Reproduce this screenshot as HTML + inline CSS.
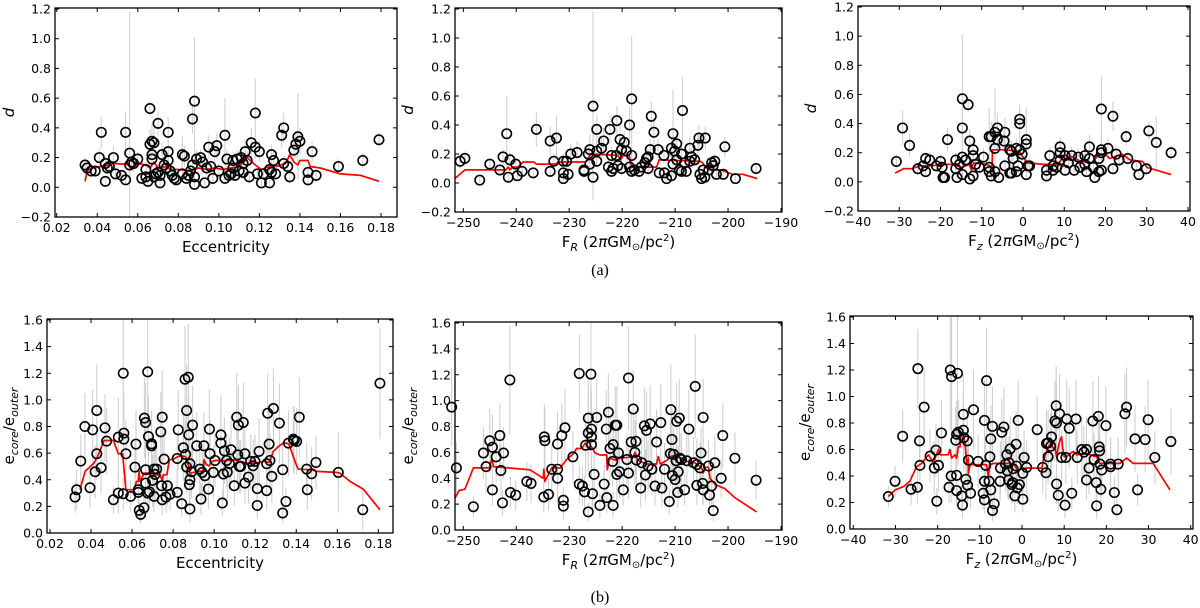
<!DOCTYPE html>
<html><head><meta charset="utf-8"><style>
html,body{margin:0;padding:0;background:#fff}
svg{display:block;font-family:"DejaVu Sans","Liberation Sans",sans-serif}
</style></head><body>
<svg id="fig" width="1200" height="608" viewBox="0 0 1200 608" xmlns="http://www.w3.org/2000/svg">
<text x="600" y="275" text-anchor="middle" font-family="Liberation Serif, serif" font-size="16">(a)</text>
<text x="600" y="602" text-anchor="middle" font-family="Liberation Serif, serif" font-size="16">(b)</text>
</svg>
<script>
// ---- data: [x, y, errHalf] ----
const p1Pts=[[0.034,0.15,0.05],[0.035,0.13,0.04],[0.037,0.11,0.04],[0.039,0.11,0.03],[0.041,0.20,0.06],[0.042,0.37,0.11],[0.044,0.16,0.05],[0.044,0.04,0.03],[0.045,0.13,0.04],[0.046,0.14,0.05],[0.048,0.20,0.08],[0.049,0.09,0.04],[0.052,0.08,0.03],[0.054,0.05,0.03],[0.054,0.37,0.14],[0.056,0.23,0.95],[0.056,0.15,0.06],[0.057,0.17,0.05],[0.058,0.16,0.06],[0.060,0.19,0.05],[0.062,0.06,0.03],[0.064,0.07,0.03],[0.064,0.12,0.05],[0.065,0.04,0.03],[0.066,0.29,0.10],[0.066,0.53,0.05],[0.067,0.31,0.12],[0.067,0.22,0.08],[0.067,0.19,0.06],[0.068,0.07,0.04],[0.068,0.30,0.10],[0.069,0.09,0.04],[0.070,0.43,0.08],[0.070,0.10,0.05],[0.071,0.03,0.02],[0.071,0.08,0.04],[0.072,0.22,0.08],[0.073,0.15,0.05],[0.074,0.13,0.05],[0.075,0.18,0.06],[0.075,0.37,0.10],[0.075,0.24,0.08],[0.076,0.11,0.04],[0.077,0.08,0.04],[0.078,0.06,0.03],[0.079,0.05,0.03],[0.082,0.09,0.05],[0.082,0.22,0.13],[0.083,0.21,0.07],[0.084,0.06,0.03],[0.085,0.08,0.04],[0.086,0.11,0.05],[0.087,0.46,0.10],[0.087,0.15,0.05],[0.088,0.58,0.43],[0.088,0.02,0.02],[0.088,0.07,0.04],[0.089,0.19,0.06],[0.091,0.20,0.06],[0.092,0.17,0.05],[0.093,0.03,0.02],[0.094,0.13,0.05],[0.095,0.27,0.08],[0.096,0.14,0.05],[0.097,0.06,0.04],[0.098,0.24,0.07],[0.099,0.28,0.09],[0.100,0.11,0.05],[0.103,0.35,0.25],[0.103,0.06,0.04],[0.104,0.19,0.06],[0.105,0.08,0.04],[0.106,0.09,0.04],[0.107,0.18,0.06],[0.107,0.13,0.05],[0.108,0.08,0.04],[0.109,0.19,0.06],[0.110,0.11,0.05],[0.111,0.20,0.07],[0.112,0.16,0.05],[0.112,0.10,0.05],[0.113,0.24,0.08],[0.114,0.18,0.06],[0.115,0.07,0.04],[0.116,0.30,0.10],[0.118,0.50,0.23],[0.118,0.27,0.08],[0.119,0.09,0.04],[0.120,0.24,0.07],[0.121,0.03,0.02],[0.122,0.09,0.04],[0.125,0.03,0.02],[0.125,0.12,0.05],[0.126,0.22,0.06],[0.126,0.10,0.04],[0.127,0.18,0.06],[0.128,0.09,0.04],[0.131,0.35,0.08],[0.132,0.40,0.10],[0.132,0.16,0.05],[0.134,0.14,0.05],[0.135,0.07,0.04],[0.137,0.25,0.08],[0.138,0.29,0.09],[0.139,0.34,0.29],[0.140,0.31,0.09],[0.144,0.05,0.03],[0.144,0.10,0.04],[0.146,0.24,0.07],[0.148,0.08,0.04],[0.159,0.14,0.05],[0.171,0.18,0.05],[0.179,0.32,0.05]];
const p1LineX=[0.034,0.035,0.036,0.038,0.042,0.046,0.048,0.055,0.057,0.060,0.064,0.066,0.068,0.070,0.074,0.076,0.080,0.086,0.090,0.094,0.098,0.102,0.106,0.110,0.114,0.118,0.121,0.125,0.128,0.133,0.135,0.137,0.139,0.140,0.144,0.145,0.150,0.160,0.170,0.179];
const p1LineY=[0.04,0.11,0.12,0.13,0.14,0.15,0.16,0.155,0.12,0.16,0.15,0.13,0.17,0.13,0.14,0.12,0.12,0.11,0.13,0.12,0.13,0.12,0.13,0.14,0.20,0.15,0.12,0.14,0.14,0.16,0.22,0.17,0.15,0.18,0.18,0.14,0.13,0.09,0.08,0.04];

const p2Pts=[[-250.6,0.15,0.05],[-249.7,0.17,0.05],[-246.9,0.02,0.02],[-245.0,0.13,0.04],[-243.1,0.09,0.04],[-242.5,0.18,0.06],[-241.8,0.34,0.26],[-241.5,0.04,0.03],[-241.2,0.16,0.05],[-240.1,0.13,0.04],[-239.8,0.05,0.03],[-238.9,0.08,0.04],[-236.8,0.07,0.04],[-236.2,0.37,0.12],[-233.6,0.29,0.10],[-233.6,0.08,0.04],[-232.9,0.15,0.05],[-232.4,0.31,0.15],[-231.1,0.15,0.05],[-231.1,0.07,0.04],[-231.1,0.03,0.02],[-230.5,0.15,0.05],[-230.2,0.06,0.03],[-229.7,0.20,0.07],[-228.5,0.21,0.08],[-227.2,0.08,0.04],[-227.2,0.09,0.04],[-226.4,0.20,0.06],[-226.1,0.23,0.10],[-226.1,0.13,0.05],[-225.5,0.53,0.65],[-225.5,0.04,0.03],[-224.8,0.15,0.05],[-224.8,0.22,0.08],[-224.8,0.37,0.10],[-223.9,0.24,0.08],[-223.5,0.29,0.09],[-222.6,0.11,0.05],[-222.3,0.37,0.10],[-222.0,0.19,0.06],[-222.0,0.08,0.04],[-221.7,0.10,0.05],[-221.1,0.19,0.06],[-221.0,0.43,0.10],[-220.8,0.12,0.05],[-220.4,0.30,0.10],[-220.1,0.10,0.05],[-220.1,0.23,0.08],[-219.6,0.28,0.08],[-219.2,0.22,0.07],[-218.6,0.40,0.12],[-218.6,0.11,0.05],[-218.2,0.58,0.43],[-218.2,0.19,0.06],[-218.2,0.08,0.04],[-217.7,0.09,0.04],[-216.8,0.08,0.04],[-216.4,0.11,0.05],[-215.7,0.14,0.05],[-215.4,0.17,0.06],[-215.1,0.18,0.06],[-215.1,0.10,0.05],[-214.7,0.23,0.07],[-214.5,0.46,0.10],[-214.0,0.35,0.10],[-213.2,0.23,0.07],[-213.0,0.07,0.04],[-212.1,0.19,0.06],[-212.0,0.07,0.04],[-211.6,0.03,0.02],[-210.7,0.24,0.07],[-210.7,0.05,0.03],[-210.4,0.34,0.30],[-210.4,0.13,0.05],[-210.1,0.22,0.07],[-209.7,0.27,0.08],[-209.7,0.16,0.05],[-209.2,0.09,0.04],[-208.8,0.20,0.06],[-208.8,0.08,0.04],[-208.6,0.50,0.23],[-208.2,0.14,0.05],[-207.9,0.08,0.04],[-207.2,0.24,0.08],[-207.2,0.15,0.05],[-206.9,0.18,0.06],[-206.3,0.16,0.05],[-205.7,0.26,0.08],[-205.5,0.31,0.09],[-205.3,0.06,0.03],[-205.0,0.03,0.02],[-204.7,0.09,0.04],[-204.3,0.31,0.08],[-204.4,0.04,0.03],[-203.6,0.09,0.04],[-203.1,0.14,0.05],[-202.8,0.12,0.05],[-202.5,0.15,0.05],[-202.2,0.06,0.03],[-200.9,0.06,0.03],[-200.6,0.25,0.07],[-198.6,0.03,0.02],[-194.7,0.10,0.04]];
const p2LineX=[-251.6,-249.7,-242.0,-241.5,-241.2,-240.7,-239.7,-238.7,-236.7,-236.2,-232.6,-232.1,-226.9,-225.9,-220.8,-220.3,-219.8,-218.7,-218.2,-213.5,-213.0,-205.3,-204.8,-204.3,-203.3,-201.3,-199.2,-197.2,-194.5];
const p2LineY=[0.03,0.09,0.09,0.11,0.09,0.11,0.11,0.145,0.145,0.13,0.13,0.145,0.145,0.20,0.19,0.16,0.19,0.19,0.11,0.11,0.16,0.15,0.14,0.11,0.09,0.09,0.06,0.06,0.03];

const p3Pts=[[-30.7,0.14,0.05],[-29.2,0.37,0.12],[-27.5,0.25,0.08],[-25.5,0.09,0.04],[-24.2,0.11,0.04],[-23.6,0.16,0.05],[-23.6,0.07,0.04],[-22.6,0.15,0.05],[-21.0,0.11,0.04],[-20.0,0.14,0.05],[-19.6,0.10,0.04],[-19.4,0.03,0.02],[-19.0,0.03,0.02],[-18.3,0.29,0.08],[-16.3,0.15,0.05],[-16.3,0.09,0.04],[-16.0,0.03,0.02],[-15.4,0.12,0.05],[-14.7,0.57,0.44],[-14.7,0.37,0.10],[-14.7,0.17,0.06],[-14.7,0.05,0.03],[-13.9,0.15,0.05],[-13.3,0.53,0.05],[-12.9,0.28,0.08],[-12.9,0.02,0.02],[-12.1,0.22,0.07],[-12.1,0.18,0.06],[-12.1,0.04,0.03],[-11.5,0.12,0.05],[-10.6,0.10,0.04],[-9.6,0.17,0.06],[-8.2,0.31,0.20],[-8.2,0.10,0.04],[-8.2,0.07,0.04],[-7.7,0.31,0.10],[-7.7,0.04,0.03],[-6.8,0.34,0.30],[-6.8,0.07,0.04],[-6.8,0.23,0.08],[-6.2,0.37,0.10],[-6.2,0.29,0.08],[-5.9,0.03,0.02],[-4.4,0.34,0.10],[-4.4,0.11,0.05],[-4.6,0.28,0.08],[-3.2,0.22,0.07],[-3.2,0.06,0.03],[-2.8,0.06,0.03],[-2.8,0.21,0.07],[-2.4,0.16,0.05],[-1.6,0.23,0.07],[-1.6,0.07,0.04],[-1.2,0.11,0.05],[-0.8,0.43,0.10],[-0.8,0.40,0.11],[-0.8,0.22,0.07],[-0.2,0.19,0.06],[0.8,0.29,0.22],[0.8,0.26,0.08],[0.8,0.05,0.03],[1.2,0.11,0.05],[1.6,0.11,0.05],[5.7,0.04,0.03],[5.7,0.08,0.04],[6.5,0.18,0.06],[7.3,0.11,0.05],[7.3,0.08,0.04],[8.2,0.10,0.05],[9.0,0.20,0.08],[9.0,0.24,0.07],[9.0,0.15,0.05],[10.2,0.08,0.04],[10.2,0.18,0.06],[11.0,0.13,0.05],[11.8,0.18,0.06],[12.4,0.08,0.04],[13.4,0.17,0.06],[13.8,0.10,0.04],[15.0,0.18,0.06],[15.0,0.12,0.05],[15.4,0.07,0.04],[16.1,0.24,0.08],[16.1,0.16,0.05],[17.0,0.10,0.04],[17.4,0.03,0.02],[18.4,0.07,0.04],[18.4,0.16,0.05],[19.0,0.50,0.23],[19.0,0.20,0.07],[19.0,0.22,0.07],[19.0,0.08,0.04],[20.6,0.23,0.07],[21.8,0.09,0.04],[21.8,0.45,0.10],[22.6,0.19,0.06],[23.3,0.15,0.05],[25.0,0.31,0.06],[25.4,0.16,0.05],[27.5,0.11,0.04],[28.1,0.05,0.03],[29.9,0.09,0.04],[30.5,0.35,0.06],[32.3,0.27,0.18],[35.9,0.20,0.05]];
const p3LineX=[-31,-29,-27,-25,-22,-20,-17,-15,-13,-12.5,-12,-9,-8,-7.5,-7.4,-4,-1,0.5,1,5,8,9,10,12,14,17,18,20,21,24,26,29,30,35.9];
const p3LineY=[0.06,0.09,0.09,0.11,0.11,0.12,0.12,0.10,0.12,0.08,0.13,0.12,0.11,0.11,0.22,0.22,0.21,0.15,0.13,0.12,0.12,0.14,0.18,0.17,0.14,0.13,0.18,0.19,0.16,0.19,0.15,0.14,0.10,0.05];

const p4Pts=[[0.0322,0.27,0.12],[0.033,0.325,0.15],[0.035,0.54,0.20],[0.037,0.80,0.25],[0.0395,0.34,0.15],[0.0408,0.775,0.30],[0.042,0.46,0.2],[0.0428,0.92,0.35],[0.0428,0.595,0.2],[0.0449,0.49,0.2],[0.0468,0.79,0.25],[0.0476,0.69,0.25],[0.0509,0.25,0.1],[0.0533,0.72,0.3],[0.0533,0.30,0.15],[0.0557,1.20,0.4],[0.0557,0.295,0.12],[0.056,0.75,0.3],[0.056,0.705,0.25],[0.057,0.595,0.25],[0.0593,0.275,0.12],[0.0614,0.495,0.2],[0.0619,0.668,0.25],[0.063,0.305,0.12],[0.063,0.325,0.12],[0.0635,0.17,0.08],[0.0642,0.14,0.07],[0.0658,0.19,0.08],[0.066,0.863,0.3],[0.0666,0.83,0.3],[0.0666,0.375,0.15],[0.0666,0.475,0.2],[0.0676,1.21,0.45],[0.0676,0.30,0.15],[0.068,0.725,0.3],[0.0684,0.31,0.12],[0.0695,0.67,0.25],[0.0695,0.655,0.25],[0.07,0.395,0.2],[0.0707,0.48,0.2],[0.0707,0.275,0.12],[0.0712,0.44,0.2],[0.072,0.48,0.2],[0.074,0.76,0.3],[0.0744,0.355,0.15],[0.0747,0.87,0.35],[0.0747,0.25,0.12],[0.0756,0.555,0.22],[0.0765,0.27,0.12],[0.0772,0.355,0.15],[0.0785,0.29,0.12],[0.082,0.305,0.12],[0.082,0.56,0.2],[0.0825,0.775,0.3],[0.0842,0.22,0.1],[0.085,0.64,0.25],[0.0858,1.155,0.4],[0.0861,0.59,0.25],[0.0866,0.92,0.35],[0.0866,0.495,0.2],[0.0874,1.17,0.4],[0.0876,0.737,0.3],[0.0879,0.363,0.15],[0.0882,0.18,0.1],[0.0882,0.40,0.15],[0.0882,0.52,0.2],[0.089,0.46,0.2],[0.0895,0.81,0.3],[0.0915,0.655,0.25],[0.093,0.48,0.2],[0.0936,0.255,0.12],[0.0942,0.455,0.2],[0.095,0.655,0.25],[0.0955,0.43,0.2],[0.0972,0.33,0.15],[0.0977,0.78,0.3],[0.098,0.595,0.25],[0.0996,0.455,0.2],[0.1004,0.545,0.2],[0.1033,0.737,0.3],[0.1033,0.675,0.25],[0.104,0.225,0.1],[0.1045,0.443,0.2],[0.105,0.617,0.25],[0.1061,0.545,0.2],[0.1064,0.457,0.2],[0.1074,0.52,0.2],[0.1082,0.625,0.25],[0.1098,0.355,0.15],[0.111,0.87,0.33],[0.1115,0.587,0.25],[0.1118,0.81,0.3],[0.1123,0.50,0.2],[0.1129,0.50,0.2],[0.1142,0.83,0.3],[0.115,0.595,0.25],[0.115,0.375,0.15],[0.1167,0.42,0.2],[0.1178,0.538,0.2],[0.119,0.505,0.2],[0.1199,0.538,0.2],[0.121,0.333,0.15],[0.121,0.207,0.1],[0.1219,0.613,0.25],[0.1256,0.52,0.2],[0.1256,0.318,0.15],[0.1261,0.90,0.3],[0.1268,0.668,0.25],[0.1272,0.545,0.2],[0.1281,0.425,0.2],[0.1289,0.935,0.3],[0.1318,0.825,0.3],[0.1334,0.475,0.2],[0.1334,0.15,0.08],[0.135,0.237,0.1],[0.1362,0.675,0.25],[0.1386,0.705,0.25],[0.139,0.695,0.25],[0.1402,0.688,0.25],[0.1415,0.87,0.3],[0.1451,0.48,0.2],[0.1454,0.325,0.15],[0.1475,0.445,0.2],[0.1496,0.53,0.2],[0.1605,0.455,0.3],[0.1724,0.175,0.15],[0.1808,1.125,0.42]];
const p4LineX=[0.0346,0.0371,0.0414,0.0432,0.0452,0.0463,0.0509,0.0533,0.0554,0.057,0.0609,0.0622,0.063,0.0634,0.0639,0.0658,0.0679,0.0699,0.0712,0.0736,0.0747,0.0752,0.0769,0.0782,0.0801,0.0825,0.0842,0.0859,0.0869,0.0882,0.0928,0.0947,0.095,0.0963,0.0976,0.0988,0.1009,0.1045,0.1093,0.1126,0.1158,0.1207,0.124,0.1269,0.128,0.1288,0.1313,0.1337,0.1353,0.1366,0.1383,0.1397,0.141,0.1475,0.15,0.1597,0.1613,0.1662,0.1727,0.1808];
const p4LineY=[0.325,0.4625,0.525,0.575,0.65,0.695,0.695,0.595,0.595,0.325,0.325,0.3875,0.3875,0.4625,0.3875,0.45,0.45,0.42,0.4375,0.4375,0.395,0.4375,0.4375,0.55,0.555,0.575,0.58,0.575,0.55,0.45,0.4625,0.4675,0.55,0.5125,0.505,0.5375,0.545,0.5425,0.55,0.5375,0.525,0.525,0.5375,0.53,0.575,0.6125,0.65,0.675,0.675,0.6625,0.5875,0.525,0.48,0.475,0.4625,0.455,0.45,0.3875,0.33,0.175];

const p5Pts=[[-252.2,0.95,0.3],[-251.3,0.48,0.2],[-248.1,0.18,0.08],[-246.2,0.595,0.2],[-245.7,0.49,0.2],[-245,0.69,0.25],[-244.5,0.64,0.25],[-244.5,0.31,0.12],[-243.8,0.565,0.2],[-243.1,0.73,0.25],[-242.9,0.46,0.2],[-242.4,0.595,0.2],[-242.6,0.21,0.1],[-241.1,0.29,0.12],[-241.2,1.16,0.42],[-240.1,0.27,0.12],[-238,0.375,0.15],[-237.2,0.36,0.15],[-234.7,0.72,0.25],[-234.6,0.69,0.25],[-234.8,0.255,0.12],[-233.9,0.275,0.12],[-233.3,0.47,0.2],[-232.2,0.47,0.2],[-232.2,0.665,0.25],[-232.2,0.40,0.2],[-231.4,0.73,0.25],[-230.8,0.79,0.3],[-231.1,0.23,0.1],[-231.1,0.185,0.1],[-229.3,0.565,0.2],[-228.1,1.21,0.3],[-228.1,0.355,0.15],[-227.5,0.34,0.15],[-227.1,0.295,0.12],[-226.9,0.655,0.25],[-226.4,0.865,0.3],[-226.4,0.75,0.3],[-226.4,0.14,0.07],[-225.9,1.205,0.4],[-225.8,0.72,0.25],[-225.8,0.66,0.25],[-225.8,0.78,0.3],[-225.6,0.28,0.12],[-225.3,0.43,0.2],[-224.8,0.87,0.3],[-224.2,0.19,0.1],[-223.4,0.355,0.15],[-223,0.78,0.3],[-222.9,0.25,0.12],[-222.6,0.91,0.3],[-222.3,0.63,0.25],[-221.8,0.53,0.2],[-221.7,0.19,0.1],[-221.7,0.66,0.25],[-221.3,0.81,0.3],[-221,0.81,0.3],[-221,0.43,0.2],[-220.7,0.595,0.2],[-220.5,0.45,0.2],[-219.8,0.31,0.12],[-219.1,0.545,0.2],[-218.8,1.175,0.4],[-218.8,0.44,0.2],[-218.3,0.68,0.25],[-217.9,0.935,0.3],[-217.6,0.60,0.25],[-217.4,0.685,0.25],[-217.3,0.54,0.2],[-216.5,0.325,0.15],[-216.3,0.52,0.2],[-215.8,0.805,0.3],[-215.6,0.425,0.2],[-215.4,0.77,0.3],[-215.1,0.495,0.2],[-214.7,0.82,0.3],[-214.4,0.47,0.2],[-213.8,0.34,0.15],[-213.5,0.68,0.25],[-212.7,0.83,0.3],[-212.5,0.325,0.15],[-212,0.47,0.2],[-211.1,0.22,0.1],[-210.9,0.59,0.25],[-210.8,0.93,0.35],[-210.6,0.70,0.25],[-210.5,0.42,0.2],[-210.3,0.585,0.2],[-210,0.39,0.15],[-209.8,0.535,0.2],[-209.7,0.84,0.3],[-209.5,0.29,0.12],[-209.4,0.45,0.2],[-209.2,0.865,0.3],[-209.1,0.555,0.2],[-208.8,0.545,0.2],[-208.2,0.31,0.12],[-207.8,0.535,0.2],[-207.4,0.78,0.3],[-206.5,0.52,0.2],[-206.2,1.11,0.4],[-205.9,0.345,0.15],[-205.9,0.505,0.2],[-205.3,0.48,0.2],[-205.1,0.595,0.2],[-204.8,0.36,0.15],[-204.7,0.31,0.12],[-204.7,0.87,0.3],[-203.7,0.495,0.2],[-203.5,0.27,0.12],[-203.1,0.34,0.15],[-202.8,0.15,0.08],[-202.5,0.52,0.2],[-201.3,0.40,0.15],[-201,0.73,0.25],[-198.7,0.555,0.2],[-194.7,0.385,0.15]];
const p5LineX=[-251.6,-250.8,-249.7,-248.1,-245.1,-244.6,-244.3,-237.4,-234.9,-234.8,-234.6,-233.3,-231.7,-230.5,-229.2,-228.6,-227.6,-227,-226.1,-225.8,-225.1,-224.2,-222.9,-222.8,-222.4,-221.3,-220.4,-218.5,-217.9,-217.6,-217.1,-215.4,-213.5,-213.2,-212.8,-211.6,-210.6,-209.4,-207.8,-206.5,-205.3,-204.8,-204.7,-204.3,-203.7,-203.4,-202.5,-201.5,-200.6,-198.7,-194.6];
const p5LineY=[0.245,0.305,0.315,0.48,0.48,0.55,0.49,0.465,0.40,0.47,0.375,0.48,0.48,0.545,0.59,0.63,0.63,0.67,0.62,0.645,0.595,0.58,0.58,0.465,0.555,0.54,0.555,0.563,0.568,0.60,0.54,0.51,0.51,0.568,0.51,0.537,0.573,0.568,0.53,0.525,0.49,0.465,0.44,0.485,0.485,0.40,0.355,0.335,0.32,0.25,0.14];

const p6Pts=[[-31.7,0.245,0.08],[-30.1,0.36,0.12],[-28.3,0.70,0.2],[-26.3,0.30,0.12],[-24.8,0.315,0.12],[-24.7,1.21,0.3],[-24.3,0.665,0.25],[-24.2,0.48,0.2],[-23.2,0.92,0.3],[-21.8,0.55,0.2],[-20.8,0.46,0.2],[-20.4,0.595,0.2],[-20.2,0.21,0.1],[-19.8,0.48,0.2],[-19.1,0.725,0.25],[-17.3,0.315,0.12],[-17,1.20,0.45],[-16.7,1.15,0.45],[-16.8,0.40,0.2],[-15.7,0.67,0.25],[-15.5,0.715,0.25],[-15.5,0.405,0.2],[-15.5,0.29,0.12],[-15.3,1.175,0.45],[-15.1,0.73,0.25],[-14.3,0.25,0.12],[-14.1,0.18,0.1],[-13.9,0.865,0.3],[-13.9,0.745,0.25],[-13.8,0.69,0.25],[-13.3,0.375,0.15],[-13,0.665,0.25],[-12.9,0.33,0.15],[-12.7,0.52,0.2],[-12.2,0.27,0.12],[-11.5,0.90,0.3],[-10.4,0.51,0.2],[-8.9,0.82,0.3],[-8.9,0.36,0.15],[-8.6,0.48,0.2],[-9.2,0.27,0.12],[-8.9,0.22,0.1],[-8.4,1.12,0.4],[-7.8,0.36,0.15],[-7.6,0.545,0.2],[-7.4,0.68,0.25],[-7.4,0.295,0.12],[-7,0.775,0.3],[-7,0.14,0.08],[-6.6,0.19,0.1],[-5.2,0.36,0.15],[-5.1,0.46,0.2],[-4.8,0.73,0.25],[-4.3,0.77,0.3],[-3.9,0.49,0.2],[-3.6,0.56,0.2],[-3.5,0.44,0.2],[-3.2,0.37,0.15],[-3.1,0.50,0.2],[-2.8,0.605,0.25],[-2.4,0.335,0.15],[-2.2,0.35,0.15],[-2.1,0.455,0.2],[-1.7,0.25,0.12],[-1.4,0.64,0.25],[-1.3,0.475,0.2],[-1.1,0.31,0.12],[-0.9,0.82,0.3],[-0.6,0.335,0.15],[0.2,0.42,0.2],[0.2,0.225,0.1],[0.5,0.54,0.2],[1.1,0.465,0.2],[3.6,0.75,0.25],[4.9,0.465,0.2],[5.7,0.425,0.2],[5.8,0.645,0.25],[6.2,0.545,0.2],[6.2,0.65,0.25],[6.8,0.625,0.25],[7,0.695,0.25],[7.8,0.815,0.3],[8.1,0.93,0.3],[8.2,0.80,0.3],[8.2,0.34,0.15],[8.6,0.255,0.12],[8.9,0.87,0.3],[9.4,0.54,0.2],[10.2,0.18,0.1],[10.4,0.54,0.2],[10.6,0.83,0.3],[11.2,0.76,0.3],[11.8,0.27,0.12],[12.8,0.83,0.3],[13.1,0.54,0.2],[14.2,0.60,0.25],[14.7,0.58,0.2],[15.3,0.60,0.25],[15.3,0.37,0.15],[15.9,0.46,0.2],[16.8,0.815,0.3],[17.1,0.525,0.2],[17.6,0.35,0.15],[17.7,0.175,0.1],[18.1,0.85,0.3],[18.3,0.62,0.25],[18.4,0.59,0.25],[18.5,0.49,0.2],[18.7,0.30,0.12],[18.9,0.445,0.2],[19.9,0.78,0.3],[21,0.49,0.2],[21,0.47,0.2],[21.9,0.275,0.12],[22.5,0.145,0.08],[22.8,0.49,0.2],[24.4,0.87,0.3],[24.8,0.92,0.3],[26.8,0.68,0.25],[27.4,0.295,0.12],[29.2,0.675,0.25],[29.9,0.825,0.3],[31.5,0.54,0.2],[35.3,0.66,0.25]];
const p6LineX=[-31.7,-30.1,-28.1,-26.6,-25,-23.8,-22.2,-21.4,-21,-20.6,-19.8,-19.4,-17.5,-17.1,-16.7,-15.9,-15.5,-15.1,-14.7,-14.5,-14.3,-13.9,-13.5,-13.1,-12.7,-12.7,-12.3,-8.4,-8,-7.7,-6.8,-2.1,-0.9,-0.1,4.7,5.1,5.7,6.2,6.8,7.4,7.8,8.2,8.6,9,9.4,9.6,10,10.6,11.4,12.2,13,15.3,17.1,17.7,18.5,20.9,23.2,24.8,26.4,31.1,35.1];
const p6LineY=[0.245,0.295,0.32,0.36,0.47,0.495,0.56,0.52,0.495,0.535,0.60,0.56,0.56,0.60,0.535,0.56,0.535,0.62,0.62,0.67,0.67,0.70,0.645,0.485,0.535,0.42,0.485,0.485,0.395,0.485,0.495,0.495,0.435,0.46,0.46,0.52,0.57,0.62,0.645,0.61,0.62,0.545,0.62,0.67,0.695,0.62,0.545,0.545,0.57,0.585,0.56,0.57,0.55,0.545,0.495,0.495,0.495,0.535,0.495,0.495,0.295];

const topYTicks=[-0.2,0.0,0.2,0.4,0.6,0.8,1.0,1.2];
const botYTicks=[0.0,0.2,0.4,0.6,0.8,1.0,1.2,1.4,1.6];
const eccTicks=[0.02,0.04,0.06,0.08,0.10,0.12,0.14,0.16,0.18];
const frTicks=[-250,-240,-230,-220,-210,-200,-190];
const fzTicks=[-40,-30,-20,-10,0,10,20,30,40];

const NS='http://www.w3.org/2000/svg';
const svg=document.getElementById('fig');
function mk(tag,attrs,parent){const e=document.createElementNS(NS,tag);for(const k in attrs)e.setAttribute(k,attrs[k]);(parent||svg).appendChild(e);return e;}
function lin(d0,d1,r0,r1){return v=>r0+(v-d0)*(r1-r0)/(d1-d0);}
function fmt(v,dec){const s=Math.abs(v).toFixed(dec);return (v<0?'\u2212':'')+s;}

function panel(o){
  const g=mk('g',{});
  
  
  const X=lin(o.xd[0],o.xd[1],o.xr[0],o.xr[1]);
  const Y=lin(o.yd[0],o.yd[1],o.yr[0],o.yr[1]);
  const f=o.frame;
  const eg=mk('g',{},g);
  
  
  o.pts.forEach(p=>{
    const l=mk('line',{x1:X(p[0]),x2:X(p[0]),y1:Math.max(f.t,Y(p[1]+p[2])),y2:Math.min(f.b,Y(p[1]-p[2])),stroke:'#d0d0d0','stroke-width':1.1},eg);
    
    
  });
  const d=o.lx.map((x,i)=>(i?'L':'M')+X(x).toFixed(1)+','+Y(o.ly[i]).toFixed(1)).join('');
  const rl=mk('path',{d:d,fill:'none',stroke:'#ff0000','stroke-width':1.7,'stroke-linejoin':'round'},g);
  
  
  const pg=mk('g',{},g);
  
  
  o.pts.forEach(p=>{
    const c=mk('circle',{cx:X(p[0]),cy:Y(p[1]),r:4.7,fill:'none',stroke:'#000','stroke-width':1.6},pg);
    
    
  });
  const fr=mk('rect',{x:f.l,y:f.t,width:f.r-f.l,height:f.b-f.t,fill:'none',stroke:'#000','stroke-width':1.3},g);
  
  
  o.xt.forEach(v=>{
    const x=X(v);
    mk('line',{x1:x,x2:x,y1:f.b,y2:f.b-4,stroke:'#000','stroke-width':1},g);
    mk('line',{x1:x,x2:x,y1:f.t,y2:f.t+4,stroke:'#000','stroke-width':1},g);
    const t=mk('text',{x:x,y:f.b+15,'text-anchor':'middle','font-size':12.5},g);
    t.textContent=fmt(v,o.xdec);
    
    
  });
  o.yt.forEach(v=>{
    const y=Y(v);
    mk('line',{x1:f.l,x2:f.l+4,y1:y,y2:y,stroke:'#000','stroke-width':1},g);
    mk('line',{x1:f.r,x2:f.r-4,y1:y,y2:y,stroke:'#000','stroke-width':1},g);
    const t=mk('text',{x:f.l-4,y:y+4.5,'text-anchor':'end','font-size':12.5},g);
    t.textContent=fmt(v,1);
    
    
  });
  const xl=mk('text',{x:(f.l+f.r)/2,y:f.b+35,'text-anchor':'middle','font-size':15},g);
  xl.innerHTML=o.xlabel;
  
  
  const yl=mk('text',{x:0,y:0,'text-anchor':'middle','font-size':15,transform:'translate('+o.ylx+','+((f.t+f.b)/2)+') rotate(-90)'},g);
  yl.innerHTML=o.ylabel;
  
  
}
const dLab='<tspan font-style="italic">d</tspan>';
const eLab='e<tspan font-size="11" font-style="italic" dy="4">core</tspan><tspan dy="-4">/e</tspan><tspan font-size="11" font-style="italic" dy="4">outer</tspan>';
const frLab='F<tspan font-size="11" font-style="italic" dy="4">R</tspan><tspan dy="-4"> (2</tspan><tspan font-style="italic">π</tspan>GM<tspan font-size="10" dy="3">⊙</tspan><tspan dy="-3">/pc</tspan><tspan font-size="10" dy="-6">2</tspan><tspan dy="6">)</tspan>';
const fzLab='F<tspan font-size="11" font-style="italic" dy="4">z</tspan><tspan dy="-4"> (2</tspan><tspan font-style="italic">π</tspan>GM<tspan font-size="10" dy="3">⊙</tspan><tspan dy="-3">/pc</tspan><tspan font-size="10" dy="-6">2</tspan><tspan dy="6">)</tspan>';

panel({name:'panel-d-vs-eccentricity',pts:p1Pts,lx:p1LineX,ly:p1LineY,xd:[0.02,0.18],xr:[56.7,381],yd:[-0.2,1.2],yr:[217,9],frame:{l:55,r:397,t:8,b:217},xt:eccTicks,xdec:2,yt:topYTicks,xlabel:'Eccentricity',ylabel:dLab,ylx:14});
panel({name:'panel-d-vs-fr',pts:p2Pts,lx:p2LineX,ly:p2LineY,xd:[-250,-190],xr:[463.3,781],yd:[-0.2,1.2],yr:[212,9],frame:{l:455,r:782,t:8,b:212},xt:frTicks,xdec:0,yt:topYTicks,xlabel:frLab,ylabel:dLab,ylx:413});
panel({name:'panel-d-vs-fz',pts:p3Pts,lx:p3LineX,ly:p3LineY,xd:[-40,40],xr:[858,1188],yd:[-0.2,1.2],yr:[211,7],frame:{l:858,r:1190,t:6,b:211},xt:fzTicks,xdec:0,yt:topYTicks,xlabel:fzLab,ylabel:dLab,ylx:816});
panel({name:'panel-ratio-vs-eccentricity',pts:p4Pts,lx:p4LineX,ly:p4LineY,xd:[0.02,0.18],xr:[50,378.3],yd:[0,1.6],yr:[533,320],frame:{l:47,r:393,t:319,b:533},xt:eccTicks,xdec:2,yt:botYTicks,xlabel:'Eccentricity',ylabel:eLab,ylx:14});
panel({name:'panel-ratio-vs-fr',pts:p5Pts,lx:p5LineX,ly:p5LineY,xd:[-250,-190],xr:[463.3,781],yd:[0,1.6],yr:[530,323],frame:{l:455,r:782,t:322,b:530},xt:frTicks,xdec:0,yt:botYTicks,xlabel:frLab,ylabel:eLab,ylx:413});
panel({name:'panel-ratio-vs-fz',pts:p6Pts,lx:p6LineX,ly:p6LineY,xd:[-40,40],xr:[853.3,1190.7],yd:[0,1.6],yr:[529,317],frame:{l:850,r:1193,t:316,b:529},xt:fzTicks,xdec:0,yt:botYTicks,xlabel:fzLab,ylabel:eLab,ylx:810});
</script>
</body></html>
